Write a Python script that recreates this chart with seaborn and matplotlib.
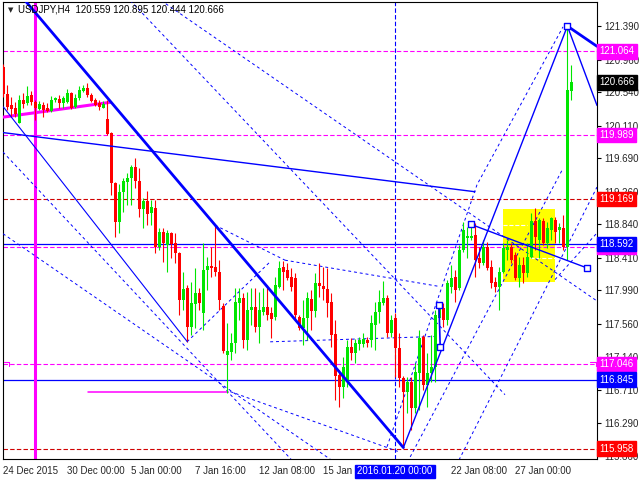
import seaborn as sns
import matplotlib.pyplot as plt
import pandas as pd
import numpy as np
from matplotlib.patches import Rectangle

# velas H4 USDJPY (abertura, maxima, minima, fechamento)
abre = [120.87, 120.52, 120.37, 120.34, 120.14, 120.44, 120.40, 120.50, 120.41, 120.32,
        120.37, 120.34, 120.30, 120.44, 120.45, 120.40, 120.41, 120.53, 120.35, 120.46,
        120.55, 120.59, 120.50, 120.44, 120.40, 120.34, 120.19, 120.01, 119.37, 118.87,
        119.26, 119.39, 119.44, 119.58, 119.40, 119.04, 119.14, 118.99, 119.05, 118.55,
        118.74, 118.57, 118.73, 118.60, 118.47, 117.87, 118.02, 117.52, 117.82, 117.96,
        117.70, 118.25, 118.31, 118.29, 118.23, 117.79, 117.16, 117.20, 117.32, 117.83,
        117.89, 117.35, 117.74, 117.78, 117.52, 117.71, 117.78, 117.70, 117.65, 118.03,
        118.29, 118.25, 118.16, 118.15, 117.65, 117.51, 117.64, 117.88, 117.73, 118.09,
        118.05, 118.01, 117.84, 117.43, 116.90, 116.75, 116.81, 117.26, 117.19, 117.30,
        117.30, 117.35, 117.35, 117.55, 117.71, 117.83, 117.89, 117.44, 117.64, 117.25,
        116.87, 116.69, 116.81, 116.48, 116.93, 117.39, 116.77, 116.93, 117.00, 117.64,
        117.77, 117.61, 118.04, 118.16, 118.02, 118.51, 118.67, 118.67, 118.70, 118.41,
        118.34, 118.55, 118.29, 118.10, 118.04, 118.23, 118.51, 118.55, 118.45, 118.15,
        118.32, 118.22, 118.42, 118.88, 118.64, 118.88, 118.60, 118.77, 118.90, 118.77,
        118.79, 118.55, 120.559]
maxima = [120.90, 120.63, 120.48, 120.41, 120.50, 120.53, 120.62, 120.55, 120.44, 120.43,
          120.41, 120.40, 120.49, 120.48, 120.50, 120.49, 120.58, 120.54, 120.52, 120.62,
          120.63, 120.66, 120.53, 120.46, 120.44, 120.43, 120.44, 120.03, 119.39, 119.36,
          119.44, 119.50, 119.60, 119.69, 119.56, 119.18, 119.27, 119.15, 119.15, 118.79,
          118.79, 118.77, 118.74, 118.73, 118.49, 118.23, 118.06, 118.10, 118.28, 118.02,
          118.60, 118.42, 118.55, 118.83, 118.38, 117.83, 117.57, 117.44, 118.02, 118.02,
          117.96, 117.97, 118.02, 118.02, 117.97, 118.02, 118.06, 117.78, 118.16, 118.37,
          118.37, 118.34, 118.28, 118.22, 117.67, 117.87, 117.97, 118.00, 118.22, 118.34,
          118.29, 118.28, 117.96, 117.61, 116.97, 117.14, 117.35, 117.38, 117.37, 117.39,
          117.44, 117.39, 117.67, 117.84, 118.00, 118.11, 117.93, 117.67, 117.70, 117.44,
          116.89, 116.88, 116.88, 117.06, 117.48, 117.42, 117.19, 117.42, 117.74, 117.83,
          117.83, 118.13, 118.32, 118.25, 118.57, 118.87, 118.81, 118.83, 118.86, 118.55,
          118.64, 118.61, 118.38, 118.16, 118.29, 118.60, 118.64, 118.60, 118.49, 118.42,
          118.42, 118.60, 118.99, 119.05, 118.92, 118.92, 118.87, 118.93, 118.93, 118.86,
          118.96, 121.39, 120.895]
minima = [120.48, 120.31, 120.22, 120.22, 120.14, 120.34, 120.37, 120.37, 120.18, 120.31,
          120.22, 120.29, 120.29, 120.41, 120.34, 120.34, 120.40, 120.32, 120.34, 120.44,
          120.54, 120.48, 120.41, 120.36, 120.31, 120.34, 119.99, 119.22, 118.68, 118.73,
          119.00, 119.09, 119.09, 119.31, 118.93, 118.79, 118.83, 118.83, 118.47, 118.51,
          118.36, 118.23, 118.41, 118.34, 117.68, 117.74, 117.33, 117.42, 117.51, 117.74,
          117.48, 118.00, 118.16, 118.18, 117.74, 117.19, 116.67, 117.10, 117.19, 117.61,
          117.25, 117.23, 117.55, 117.46, 117.32, 117.68, 117.61, 117.38, 117.61, 118.02,
          118.00, 118.13, 117.98, 117.61, 117.48, 117.29, 117.35, 117.48, 117.65, 117.91,
          117.87, 117.65, 117.26, 116.58, 116.49, 116.61, 116.75, 117.10, 117.06, 117.23,
          117.26, 117.26, 117.26, 117.23, 117.57, 117.80, 117.39, 117.39, 116.88, 116.75,
          115.97, 116.42, 116.20, 116.42, 116.45, 116.71, 116.49, 116.81, 116.81, 117.55,
          117.52, 117.55, 117.96, 117.84, 117.99, 118.49, 118.41, 118.64, 118.16, 118.28,
          118.32, 118.25, 118.02, 117.97, 117.74, 118.22, 118.38, 118.34, 118.13, 118.04,
          118.09, 118.16, 118.41, 118.51, 118.41, 118.57, 118.54, 118.64, 118.60, 118.60,
          118.51, 118.38, 120.444]
fecha = [120.52, 120.35, 120.32, 120.26, 120.44, 120.39, 120.49, 120.41, 120.34, 120.39,
         120.31, 120.30, 120.44, 120.46, 120.40, 120.46, 120.53, 120.34, 120.46, 120.57,
         120.59, 120.50, 120.43, 120.37, 120.35, 120.39, 120.00, 119.37, 118.87, 119.26,
         119.40, 119.44, 119.58, 119.40, 119.04, 119.14, 118.97, 119.06, 118.55, 118.74,
         118.60, 118.73, 118.59, 118.47, 117.87, 118.01, 117.52, 117.83, 117.96, 117.83,
         118.25, 118.31, 118.28, 118.23, 117.87, 117.21, 117.21, 117.32, 117.84, 117.89,
         117.35, 117.74, 117.78, 117.52, 117.74, 117.78, 117.68, 117.62, 118.06, 118.28,
         118.23, 118.15, 118.03, 117.68, 117.51, 117.64, 117.89, 117.73, 118.09, 118.05,
         118.01, 117.83, 117.42, 116.89, 116.75, 117.00, 117.26, 117.19, 117.32, 117.35,
         117.37, 117.32, 117.57, 117.71, 117.84, 117.89, 117.44, 117.61, 117.25, 116.87,
         116.69, 116.81, 116.48, 116.94, 117.38, 116.77, 116.93, 117.00, 117.68, 117.77,
         117.61, 118.09, 118.15, 117.99, 118.51, 118.77, 118.69, 118.69, 118.38, 118.34,
         118.55, 118.28, 118.09, 118.04, 118.23, 118.54, 118.55, 118.38, 118.15, 118.32,
         118.22, 118.42, 118.88, 118.68, 118.90, 118.60, 118.79, 118.92, 118.74, 118.81,
         118.55, 120.57, 120.666]

# eixo de precos e datas
precos_eixo = [121.390, 120.960, 120.540, 120.110, 119.690, 119.260, 118.840,
               118.410, 117.990, 117.560, 117.140, 116.710, 116.290, 115.860]
datas_pos = [0, 16, 32, 48, 64, 80, 112, 128]
datas_txt = ["24 Dec 2015", "30 Dec 00:00", "5 Jan 00:00", "7 Jan 16:00",
             "12 Jan 08:00", "15 Jan 00:00", "22 Jan 08:00", "27 Jan 00:00"]

# linhas horizontais (preco, cor, estilo)
niveis = [121.064, 119.989, 119.169, 118.592, 118.555, 117.046, 116.845, 115.958]
niveis_cor = ['#ff00ff', '#ff00ff', '#d00000', '#0000ff', '#ff00ff', '#ff00ff', '#0000ff', '#d00000']
niveis_tipo = ['--', '--', '--', '-', '--', '--', '-', '--']

# etiquetas da direita
etiquetas = [121.064, 120.666, 119.989, 119.169, 118.555, 118.592, 117.046, 116.845, 115.958]
etiquetas_cor = ['#ff00ff', '#000000', '#ff00ff', '#ff0000', '#ff00ff', '#0000ff', '#ff00ff', '#0000ff', '#ff0000']

# linhas de tendencia solidas (indice da vela, preco, espessura)
tendencias = [
    ([5.4, 100.0], [121.72, 115.97], 2.0),
    ([0.0, 46.0], [120.35, 117.33], 0.8),
    ([0.0, 117.9], [120.02, 119.26], 1.0),
    ([100.0, 141.0], [115.97, 121.39], 1.0),
    ([141.0, 148.4], [121.39, 121.13], 2.0),
    ([141.0, 148.4], [121.39, 120.37], 1.0),
    ([116.9, 145.9], [118.84, 118.28], 1.0),
    ([108.9, 109.2], [117.80, 117.26], 1.2),
]
marcadores_i = [141.0, 116.9, 145.9, 108.9, 109.2]
marcadores_p = [121.39, 118.84, 118.28, 117.80, 117.26]

# linhas tracejadas azuis
tracejadas = [
    ([-0.1, 81.7], [118.72, 115.82]),
    ([-0.1, 71.9], [119.77, 115.82]),
    ([66.7, 108.7], [117.33, 117.40]),
    ([52.9, 70.4], [118.83, 118.38]),
    ([70.4, 109.2], [118.38, 118.04]),
    ([56.7, 99.2], [116.69, 115.91]),
    ([39.4, 148.4], [121.72, 117.855]),
    ([31.7, 125.4], [121.72, 116.65]),
    ([95.9, 118.4, 139.9], [115.98, 119.35, 121.38]),
    ([101.7, 139.9], [115.85, 119.56]),
    ([113.9, 148.4], [115.81, 119.32]),
    ([45.9, 66.7], [117.33, 118.36]),
    ([137.9, 148.4], [118.13, 118.73]),
]

# pequenas marcas magenta do nivel 117.046
marca_esq_i = [0.2, 1.4, 1.4]
marca_esq_p = [117.07, 117.07, 117.02]
marca_dir_i = [146.7, 148.2, 148.2]
marca_dir_p = [117.07, 117.07, 117.02]

sns.set_style("white")
plt.rcParams['font.family'] = ['Liberation Sans', 'DejaVu Sans']

fig = plt.figure(figsize=(6.4, 4.8), dpi=100)
ax = fig.add_axes([3 / 640, 21 / 480, 594 / 640, 457 / 480])
ax.set_xlim(-0.1, 148.4)
ax.set_ylim(115.823, 121.70)

# retangulo amarelo
ax.add_patch(Rectangle((124.9, 118.10), 13.0, 0.94, facecolor='#ffff00', edgecolor='none', zorder=1))
ax.plot([124.9, 130.9], [118.83, 118.83], color='white', lw=0.8, ls='--', zorder=2)
ax.plot([131.7, 137.9], [118.41, 118.41], color='white', lw=0.8, ls='--', zorder=2)

for p, c, t in zip(niveis, niveis_cor, niveis_tipo):
    if t == '--':
        ax.axhline(p, color=c, lw=0.8, ls='--', dashes=(4, 2), zorder=2)
    else:
        ax.axhline(p, color=c, lw=0.9, zorder=2)

ax.axvline(7.9, color='#ff00ff', lw=2.2, zorder=2)
ax.axvline(97.9, color='#0000ff', lw=0.8, ls='--', dashes=(4, 2), zorder=2)

for xs, ys in tracejadas:
    ax.plot(xs, ys, color='#0000ff', lw=0.7, ls='--', dashes=(3, 3), zorder=3)

ax.plot([0.0, 26.7], [120.22, 120.41], color='#ff00ff', lw=2.2, zorder=3)
ax.plot([21.2, 56.2], [116.69, 116.69], color='#ff00ff', lw=1.1, zorder=3)
ax.plot(marca_esq_i, marca_esq_p, color='#ff00ff', lw=0.8, zorder=3)
ax.plot(marca_dir_i, marca_dir_p, color='#ff00ff', lw=0.8, zorder=3)

# velas
df = pd.DataFrame({'o': abre, 'h': maxima, 'l': minima, 'c': fecha})
df['i'] = np.arange(len(df))
cores = np.where(df['c'] >= df['o'], '#00e600', '#ff0000')
ax.vlines(df['i'], df['l'], df['h'], colors=cores, lw=0.8, zorder=4)
corpo = (df['c'] - df['o']).abs().clip(lower=0.013)
ax.bar(df['i'], corpo, bottom=df[['o', 'c']].min(axis=1), width=0.75, color=cores, lw=0, zorder=5)

for xs, ys, w in tendencias:
    ax.plot(xs, ys, color='#0000ff', lw=w, zorder=6)
sns.scatterplot(x=marcadores_i, y=marcadores_p, marker='s', s=14, facecolor='white',
                edgecolor='#0000ff', linewidth=1.0, zorder=7, ax=ax)

# eixos
for s in ax.spines.values():
    s.set_color('black')
    s.set_linewidth(0.8)
ax.yaxis.tick_right()
ax.set_yticks(precos_eixo)
ax.set_yticklabels([f"{p:.3f}" for p in precos_eixo], fontsize=7)
ax.set_xticks(datas_pos)
ax.set_xticklabels(datas_txt, fontsize=7, ha='left')
ax.tick_params(axis='both', length=3, width=0.8, color='black', pad=2, direction='out')
ax.grid(False)

for p, c in zip(etiquetas, etiquetas_cor):
    ax.annotate(f"{p:.3f}", xy=(1.004, p), xycoords=('axes fraction', 'data'),
                fontsize=7, color='white', va='center', ha='left', zorder=10,
                bbox=dict(boxstyle='square,pad=0.22', fc=c, ec=c), annotation_clip=False)

ax.annotate("2016.01.20 00:00", xy=(97.9, 0), xycoords=('data', 'axes fraction'),
            xytext=(0, -9), textcoords='offset points', fontsize=7, color='white',
            ha='center', va='center', bbox=dict(boxstyle='square,pad=0.2', fc='#0000ff', ec='#0000ff'),
            annotation_clip=False, zorder=10)

fig.text(8 / 640, 1 - 10 / 480, "\u25bc", fontsize=5, va='center', ha='left', family='DejaVu Sans')
fig.text(18 / 640, 1 - 10 / 480, "USDJPY,H4  120.559 120.895 120.444 120.666", fontsize=7,
         va='center', ha='left', color='black')

fig.savefig('out.png', dpi=100)
